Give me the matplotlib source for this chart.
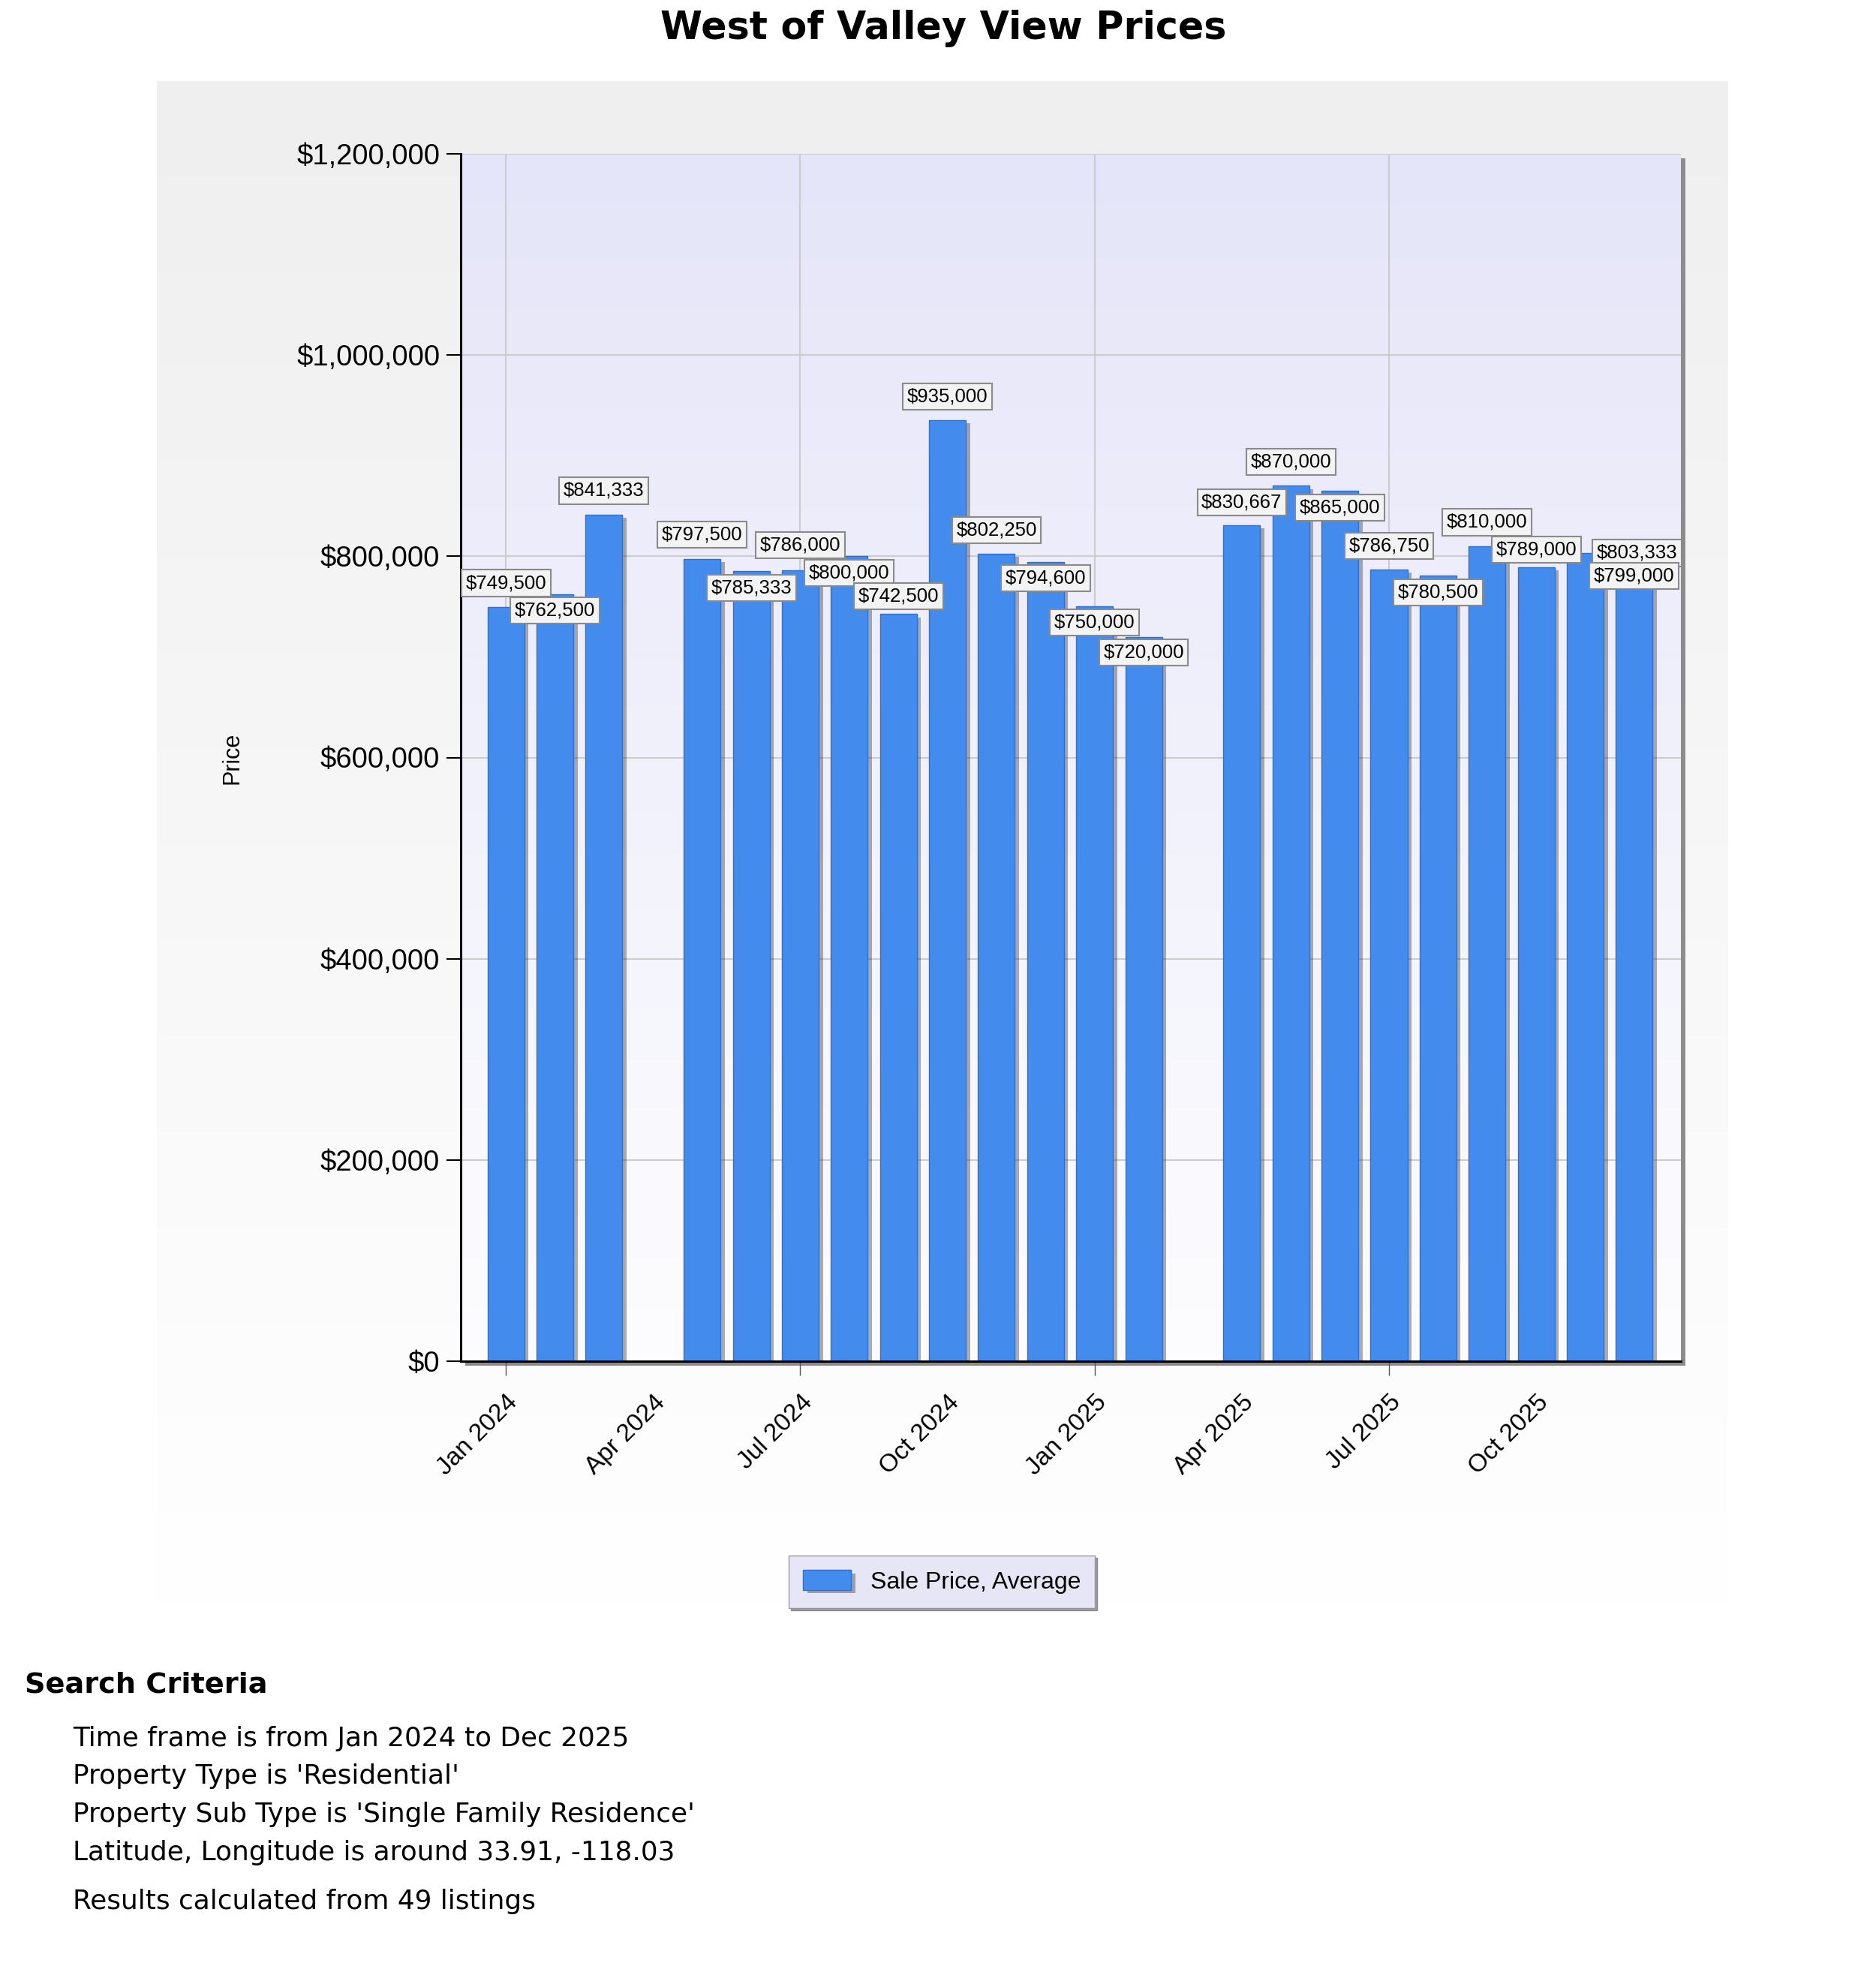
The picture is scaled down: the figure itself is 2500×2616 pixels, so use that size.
import matplotlib
matplotlib.use('Agg')
import matplotlib.pyplot as plt
import numpy as np
from matplotlib.patches import Rectangle
from matplotlib.colors import LinearSegmentedColormap
from matplotlib.ticker import FuncFormatter
from matplotlib.transforms import ScaledTranslation
from matplotlib import patheffects as pe

plt.rcParams['font.family'] = ['Liberation Sans', 'DejaVu Sans']

# data
months = ['Jan 2024', 'Feb 2024', 'Mar 2024', 'Apr 2024', 'May 2024', 'Jun 2024',
          'Jul 2024', 'Aug 2024', 'Sep 2024', 'Oct 2024', 'Nov 2024', 'Dec 2024',
          'Jan 2025', 'Feb 2025', 'Mar 2025', 'Apr 2025', 'May 2025', 'Jun 2025',
          'Jul 2025', 'Aug 2025', 'Sep 2025', 'Oct 2025', 'Nov 2025', 'Dec 2025']
prices = [749500, 762500, 841333, None, 797500, 785333,
          786000, 800000, 742500, 935000, 802250, 794600,
          750000, 720000, None, 830667, 870000, 865000,
          786750, 780500, 810000, 789000, 803333, 799000]
tick_months = ['Jan 2024', 'Apr 2024', 'Jul 2024', 'Oct 2024',
               'Jan 2025', 'Apr 2025', 'Jul 2025', 'Oct 2025']
grid_months = ['Jan 2024', 'Jul 2024', 'Jan 2025', 'Jul 2025']
y_ticks = [0, 200000, 400000, 600000, 800000, 1000000, 1200000]
series_name = 'Sale Price, Average'
title = 'West of Valley View Prices'
criteria = ['Time frame is from Jan 2024 to Dec 2025',
            "Property Type is 'Residential'",
            "Property Sub Type is 'Single Family Residence'",
            'Latitude, Longitude is around 33.91, -118.03']
listings_note = 'Results calculated from 49 listings'

# label box offsets (points) - the chart moves them around to avoid overlaps
label_dx = [0, 0, 0, 0, 0, 0, 0, 0, 0, 0, 0, 0,
            0, 0, 0, 0, 0, 0, 0, 0, 0, 0, 50, 0]
label_dy = [23, -16, 23, 0, 23, -16, 24, -16, 17, 23, 23, -16,
            -15, -15, 0, 22, 23, -16, 23, -16, 23, 17, 0, -18]

W, H = 2500, 2616
fig = plt.figure(figsize=(25, 26.16), dpi=100)


def px_box(x0, y0, x1, y1):
    return [x0 / W, 1 - y1 / H, (x1 - x0) / W, (y1 - y0) / H]


grad = np.linspace(0, 1, 256)[:, None]

# outer grey panel
panel = fig.add_axes(px_box(209, 108, 2303, 2145), zorder=-3)
panel.imshow(grad, aspect='auto', extent=[0, 1, 0, 1],
             cmap=LinearSegmentedColormap.from_list('panel', ['#efefef', '#ffffff']))
panel.axis('off')

# plot area shadow
fig.add_artist(Rectangle(((614 + 6) / W, 1 - (1814 + 6) / H), 1626 / W, 1609 / H,
                         transform=fig.transFigure, fc='#8c8c8c', ec='none', zorder=-2.5))

# plot area gradient
bg = fig.add_axes(px_box(614, 205, 2240, 1814), zorder=-2)
bg.imshow(grad, aspect='auto', extent=[0, 1, 0, 1],
          cmap=LinearSegmentedColormap.from_list('plot', ['#e5e5f9', '#fdfdff']))
bg.axis('off')

ax = fig.add_axes(px_box(614, 205, 2240, 1814), zorder=0)
ax.patch.set_alpha(0)

have = [i for i, v in enumerate(prices) if v is not None]
vals = [prices[i] for i in have]
bars = ax.bar(have, vals, width=0.75, color='#438cee', edgecolor='#2f6fd0',
              linewidth=1, zorder=3, label=series_name)
for b in bars:
    b.set_path_effects([pe.SimplePatchShadow(offset=(4, -3), shadow_rgbFace='#333333', alpha=0.4),
                        pe.Normal()])

for i in have:
    ax.annotate(f'${prices[i]:,}', xy=(i, prices[i]), xytext=(label_dx[i], label_dy[i]),
                textcoords='offset points', ha='center', va='center', fontsize=18.5,
                zorder=5, annotation_clip=False,
                bbox=dict(boxstyle='square,pad=0.22', fc='#f3f3f3', ec='#8a8a8a', lw=1.5))

ax.set_xlim(-0.92, 23.95)
ax.set_ylim(0, 1200000)

ax.set_yticks(y_ticks)
ax.yaxis.set_major_formatter(FuncFormatter(lambda v, p: f'${v:,.0f}'))
ax.tick_params(axis='y', length=14, width=1.5, pad=6, labelsize=27.5, color='black')

minor_months = [m for m in tick_months if m not in grid_months]
ax.set_xticks([months.index(m) for m in grid_months])
ax.set_xticklabels(grid_months)
ax.set_xticks([months.index(m) for m in minor_months], minor=True)
ax.set_xticklabels(minor_months, minor=True)
ax.tick_params(axis='x', which='major', length=14, width=1, color='#555555', pad=22, labelsize=24)
ax.tick_params(axis='x', which='minor', length=0, pad=36, labelsize=24)
for lab in ax.get_xticklabels(which='both'):
    lab.set_rotation(45)
    lab.set_ha('right')
    lab.set_va('center')
    lab.set_rotation_mode('anchor')
    lab.set_transform(lab.get_transform() + ScaledTranslation(8 / 72, 0, fig.dpi_scale_trans))

ax.grid(True, which='major', color='#cccccc', lw=1.5)
ax.set_axisbelow(True)
for s in ['top', 'right']:
    ax.spines[s].set_visible(False)
for s in ['left', 'bottom']:
    ax.spines[s].set_linewidth(2.2)
    ax.spines[s].set_color('black')
    ax.spines[s].set_zorder(4)

fig.text(0.503, 1 - 38 / H, title, ha='center', va='center', fontsize=36.5,
         fontweight='bold', family='DejaVu Sans')
fig.text(309 / W, 1 - 1010 / H, 'Price', rotation=90, ha='center', va='center', fontsize=22)

leg = fig.legend(handles=[bars], labels=[series_name], loc='center',
                 bbox_to_anchor=(1255 / W, 1 - 2108 / H), fontsize=23, fancybox=False,
                 shadow=True, facecolor='#e6e6f6', edgecolor='#999999', framealpha=1,
                 handlelength=2.0, handleheight=0.9, borderpad=0.6)

fig.text(33 / W, 1 - 2245 / H, 'Search Criteria', ha='left', va='center', fontsize=27.5,
         fontweight='bold', family='DejaVu Sans')
for k, line in enumerate(criteria):
    fig.text(97 / W, 1 - (2317 + 50.5 * k) / H, line, ha='left', va='center',
             fontsize=25.8, family='DejaVu Sans')
fig.text(97 / W, 1 - 2534 / H, listings_note, ha='left', va='center',
         fontsize=25.8, family='DejaVu Sans')

fig.savefig('out.png', dpi=100, facecolor='white')
